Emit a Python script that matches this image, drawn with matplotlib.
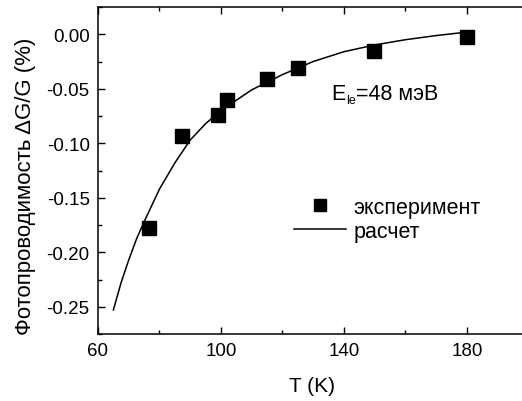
import matplotlib
matplotlib.use("Agg")
import matplotlib.pyplot as plt
from matplotlib.ticker import MultipleLocator

plt.rcParams['font.family'] = ['Liberation Sans', 'DejaVu Sans']

# experimental data
T_exp = [76.6, 87.2, 98.9, 102.0, 114.9, 124.9, 149.9, 179.9]
dG_exp = [-0.178, -0.093, -0.074, -0.060, -0.041, -0.031, -0.015, -0.0025]

# calculated curve
T_calc = [65, 67.5, 70, 72.5, 75, 80, 85, 90, 95, 100, 110, 120, 130, 140, 150, 160, 170, 180]
dG_calc = [-0.253, -0.228, -0.207, -0.188, -0.172, -0.142, -0.118, -0.097, -0.082, -0.070,
           -0.051, -0.037, -0.025, -0.016, -0.0098, -0.005, -0.0012, 0.002]

xticks = [60, 100, 140, 180]
yticks = [0.00, -0.05, -0.10, -0.15, -0.20, -0.25]

fig = plt.figure(figsize=(5.22, 4.02), dpi=100)
ax = fig.add_axes([98/522, 67/402, 430.5/522, 327/402])

ax.plot(T_calc, dG_calc, color='black', lw=1.1, label='расчет')
ax.plot(T_exp, dG_exp, ls='none', marker='s', ms=9.4, color='black', label='эксперимент')

ax.set_xlim(60, 200)
ax.set_ylim(-0.275, 0.025)
ax.set_xticks(xticks)
ax.set_yticks(yticks)
ax.set_yticklabels([f"{v:.2f}" for v in yticks])
ax.xaxis.set_minor_locator(MultipleLocator(20))
ax.yaxis.set_minor_locator(MultipleLocator(0.025))
ax.tick_params(which='both', direction='in', top=True, right=False, labelsize=13.5, width=1)
ax.tick_params(which='major', length=5, pad=6)
ax.tick_params(which='minor', length=3)
for s in ax.spines.values():
    s.set_linewidth(1.1)

ax.set_xlabel('T (K)', fontsize=15)
ax.xaxis.set_label_coords(0.497, -0.128)
ax.set_ylabel('Фотопроводимость ΔG/G (%)', fontsize=16)
ax.yaxis.set_label_coords(-0.143, 0.456)

t1 = ax.text(135.8, -0.0595, 'E', fontsize=15.5, ha='left', va='baseline')
t2 = ax.annotate('le', xy=(1, 0), xycoords=t1, xytext=(0.3, 0.5), textcoords='offset points',
                 fontsize=9, ha='left', va='baseline')
t3 = ax.annotate('=48 мэВ', xy=(1, 0), xycoords=(t2, t1), xytext=(0, 0),
                 textcoords='offset points', fontsize=15.5, ha='left', va='bottom')

h, l = ax.get_legend_handles_labels()
ax.legend([h[1], h[0]], [l[1], l[0]], loc='upper left', bbox_to_anchor=(0.41, 0.479),
          frameon=False, fontsize=15.5, handlelength=2.4, handletextpad=0.37,
          labelspacing=0.15, markerscale=0.95)

fig.savefig('out.png', dpi=100)
